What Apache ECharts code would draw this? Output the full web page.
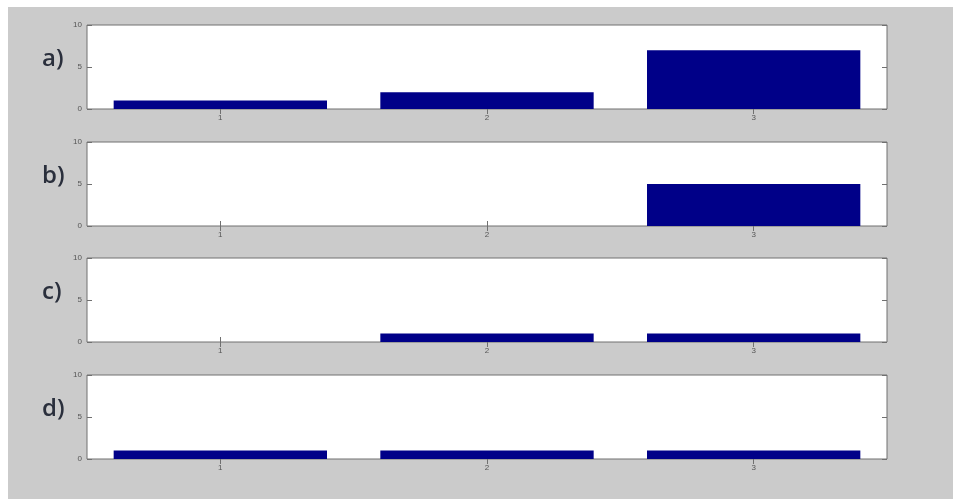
<!DOCTYPE html>
<html style="height: 100%">
<head>
    <meta charset="utf-8">
    <script type="text/javascript" src="https://cdn.jsdelivr.net/npm/echarts@6.0.0/dist/echarts.min.js"></script>
</head>
<body style="height: 100%; margin: 0; background-color: #ffffff;">
    <div id="main" style="width: 953px; height: 499px;"></div>
<script>
var categories = ['1', '2', '3'];
var panelLabels = ['a)', 'b)', 'c)', 'd)'];
var seriesA = [1, 2, 7];
var seriesB = [0, 0, 5];
var seriesC = [0, 1, 1];
var seriesD = [1, 1, 1];
var yTicks = [0, 5, 10];

var panelData = [seriesA, seriesB, seriesC, seriesD];
var panelTops = [25, 142, 258, 375];
var panelH = 84;

var chartDom = document.getElementById('main');
var myChart = echarts.init(chartDom);

var axisGray = '#707070';
var grids = [], xAxes = [], yAxes = [], series = [], graphics = [];

// gray figure background with a thin white margin top/left
graphics.push({
    type: 'rect',
    left: 8, top: 7,
    shape: { width: 953 - 8, height: 499 - 7 },
    style: { fill: '#cbcbcb' },
    z: -10
});

panelData.forEach(function (vals, i) {
    grids.push({
        left: 87, right: 66, top: panelTops[i], height: panelH,
        show: true, backgroundColor: '#ffffff',
        borderColor: axisGray, borderWidth: 1
    });
    // bottom axis with labels
    xAxes.push({
        type: 'category', gridIndex: i, data: categories, position: 'bottom',
        axisLine: { show: false },
        axisTick: { show: true, inside: true, length: 5, alignWithLabel: true, lineStyle: { color: axisGray } },
        axisLabel: { color: '#555', fontSize: 8, margin: 5, fontFamily: 'Liberation Sans' }
    });
    // top axis, ticks only
    xAxes.push({
        type: 'category', gridIndex: i, data: categories, position: 'top',
        axisLine: { show: false },
        axisTick: { show: true, inside: true, length: 5, alignWithLabel: true, lineStyle: { color: axisGray } },
        axisLabel: { show: false }
    });
    yAxes.push({
        type: 'value', gridIndex: i, min: 0, max: 10, interval: 5, position: 'left',
        splitLine: { show: false },
        axisLine: { show: false },
        axisTick: { show: true, inside: true, length: 5, lineStyle: { color: axisGray } },
        axisLabel: {
            color: '#555', fontSize: 8, margin: 5, fontFamily: 'Liberation Sans',
            formatter: function (v) { return yTicks.indexOf(v) >= 0 ? v : ''; }
        }
    });
    yAxes.push({
        type: 'value', gridIndex: i, min: 0, max: 10, interval: 5, position: 'right',
        splitLine: { show: false },
        axisLine: { show: false },
        axisTick: { show: true, inside: true, length: 5, lineStyle: { color: axisGray } },
        axisLabel: { show: false }
    });
    series.push({
        type: 'bar',
        xAxisIndex: i * 2, yAxisIndex: i * 2,
        data: vals,
        barWidth: '80%',
        itemStyle: { color: '#000088', borderWidth: 0 },
        silent: true
    });
    graphics.push({
        type: 'text',
        left: 42, top: panelTops[i] + panelH / 2 - 20,
        style: {
            text: panelLabels[i],
            font: '600 24px "Open Sans"',
            fill: '#2a2f3c'
        }
    });
});

var option = {
    animation: false,
    graphic: graphics,
    grid: grids,
    xAxis: xAxes,
    yAxis: yAxes,
    series: series
};

myChart.setOption(option);
</script>
</body>
</html>
